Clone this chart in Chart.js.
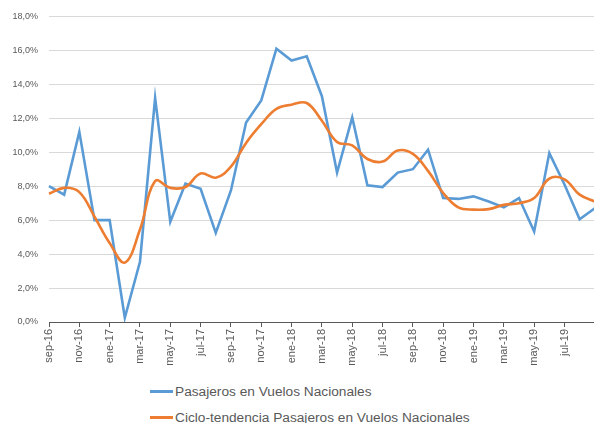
<!DOCTYPE html>
<html>
<head>
<meta charset="utf-8">
<script src="https://cdn.jsdelivr.net/npm/chart.js@4.4.1/dist/chart.umd.min.js"></script>
<style>
  body { margin: 0; width: 594px; height: 423px; overflow: hidden; background: #fff; position: relative; font-family: "Liberation Sans", Arial, sans-serif; }
  #mycanvas { position: absolute; left: 0; top: 0; }
  .leg { position: absolute; left: 150px; font-size: 13.7px; color: #595959; white-space: nowrap; line-height: 16px; }
  .leg span { display: inline-block; width: 23px; height: 3px; vertical-align: middle; margin-right: 2px; position: relative; top: -1px; }
</style>
</head>
<body>
<canvas id="mycanvas" width="610" height="372"></canvas>
<div class="leg" id="leg1" style="top:384px"></div>
<div class="leg" id="leg2" style="top:410px"></div>
<script>
var meses = ['sep-16','oct-16','nov-16','dic-16','ene-17','feb-17','mar-17','abr-17','may-17','jun-17','jul-17','ago-17',
	'sep-17','oct-17','nov-17','dic-17','ene-18','feb-18','mar-18','abr-18','may-18','jun-18','jul-18','ago-18',
	'sep-18','oct-18','nov-18','dic-18','ene-19','feb-19','mar-19','abr-19','may-19','jun-19','jul-19','ago-19','sep-19'];

var pasajeros = [8.0, 7.5, 11.2, 6.0, 6.0, 0.25, 3.55, 13.2, 5.9, 8.15, 7.85, 5.25,
	7.75, 11.75, 13.05, 16.1, 15.4, 15.65, 13.3, 8.8, 12.05, 8.05, 7.95, 8.8,
	9.0, 10.15, 7.3, 7.25, 7.4, 7.1, 6.75, 7.3, 5.33, 9.95, 8.1, 6.05, 6.7];

var tendencia = [7.55, 7.9, 7.65, 6.2, 4.65, 3.5, 5.45, 8.3, 7.9, 7.95, 8.75, 8.5,
	9.15, 10.55, 11.65, 12.55, 12.8, 12.9, 11.85, 10.6, 10.4, 9.6, 9.45, 10.1,
	9.9, 8.9, 7.6, 6.75, 6.62, 6.65, 6.9, 7.0, 7.3, 8.45, 8.4, 7.5, 7.1];

var yTicks = [0, 2, 4, 6, 8, 10, 12, 14, 16, 18];

var nombres = ['Pasajeros en Vuelos Nacionales', 'Ciclo-tendencia Pasajeros en Vuelos Nacionales'];
var colores = ['#5B9BD5', '#ED7D31'];

var ctx = document.getElementById('mycanvas');

var chart = new Chart(ctx, {
	type: 'line',
	data: {
		labels: meses,
		datasets: [
			{
				label: nombres[0],
				data: pasajeros,
				borderColor: colores[0],
				backgroundColor: colores[0],
				borderWidth: 2.6,
				pointRadius: 0,
				tension: 0,
				order: 1
			},
			{
				label: nombres[1],
				data: tendencia,
				borderColor: colores[1],
				backgroundColor: colores[1],
				borderWidth: 2.6,
				pointRadius: 0,
				tension: 0.4,
				order: 0
			}
		]
	},
	options: {
		responsive: false,
		devicePixelRatio: 1,
		animation: false,
		layout: { padding: { top: 14, right: 10, left: 0, bottom: 0 } },
		plugins: {
			legend: { display: false },
			tooltip: { enabled: false }
		},
		scales: {
			x: {
				offset: false,
				grid: {
					drawOnChartArea: false,
					drawTicks: true,
					tickLength: 5,
					color: function(c) { return c.index % 2 == 0 ? '#595959' : 'rgba(0,0,0,0)'; }
				},
				border: { display: true, color: '#595959', width: 1 },
				ticks: {
					autoSkip: false,
					minRotation: 90,
					maxRotation: 90,
					padding: 2,
					color: '#595959',
					font: { family: 'Liberation Sans', size: 11 },
					callback: function(v, i) { return (i % 2 == 0 && i < meses.length - 1) ? meses[i] : ''; }
				},
				afterFit: function(s) { s.height = 50; }
			},
			y: {
				min: 0,
				max: 18,
				afterBuildTicks: function(s) { s.ticks = yTicks.map(function(v) { return { value: v }; }); },
				grid: { color: '#D9D9D9', lineWidth: 1, drawTicks: false },
				border: { display: false },
				ticks: {
					padding: 11,
					color: '#595959',
					font: { family: 'Liberation Sans', size: 9 },
					callback: function(v) { return v.toFixed(1).replace('.', ',') + '%'; }
				},
				afterFit: function(s) { s.width = 49; }
			}
		}
	}
});

// leyenda en dos filas como el original
document.getElementById('leg1').innerHTML = '<span style="background:' + colores[0] + '"></span>' + nombres[0];
document.getElementById('leg2').innerHTML = '<span style="background:' + colores[1] + '"></span>' + nombres[1];
</script>
</body>
</html>
